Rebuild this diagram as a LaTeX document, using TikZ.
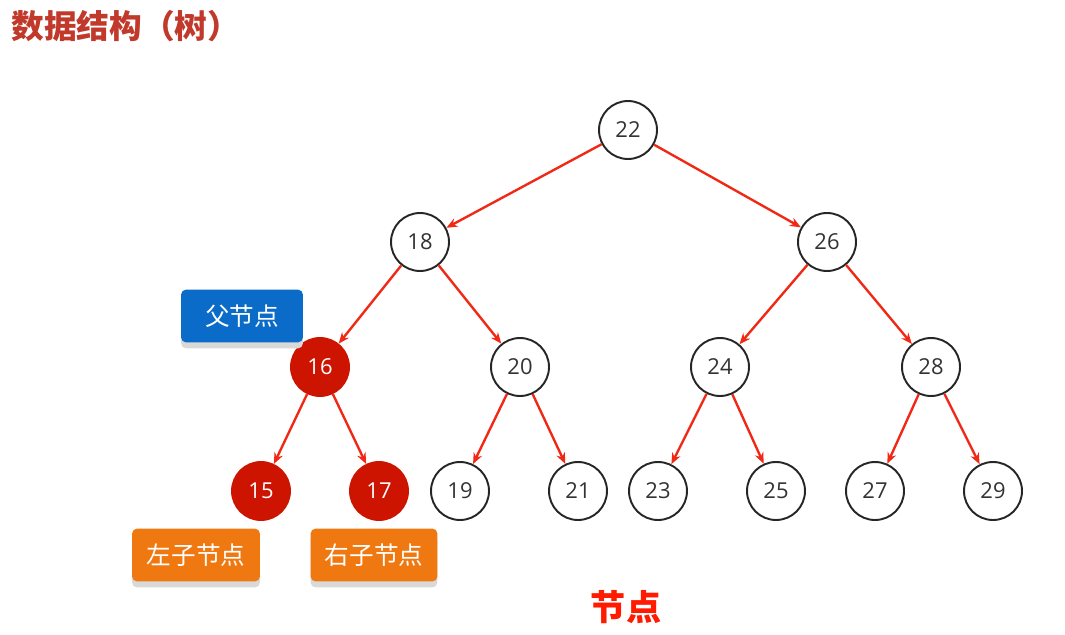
\documentclass[tikz,border=0pt]{standalone}
\usepackage{fontspec}
\setmainfont{Open Sans}
\newfontfamily\cjk{Noto Sans CJK SC}
\usetikzlibrary{positioning, arrows.meta, shadows}
\definecolor{titlered}{RGB}{192,57,43}
\definecolor{linkred}{RGB}{240,40,20}
\definecolor{nodered}{RGB}{204,20,0}
\definecolor{fatherblue}{RGB}{10,108,200}
\definecolor{childorange}{RGB}{240,120,16}
\definecolor{keyred}{RGB}{255,26,0}

\begin{document}
\begin{tikzpicture}[x=0.02cm, y=-0.02cm,
    tnode/.style={circle, draw=black!85, line width=1.1pt, minimum size=1.16cm, inner sep=0pt,
      font=\fontsize{12.5}{14}\selectfont, text=black!80},
    hnode/.style={tnode, draw=nodered, fill=nodered, text=white},
    link/.style={-{Stealth[length=0.22cm, width=0.18cm]}, linkred, line width=1.35pt},
    tag/.style={rounded corners=3pt, minimum height=1.06cm, inner sep=0pt, text=white,
      font=\cjk\fontsize{14}{16}\selectfont,
      drop shadow={shadow xshift=0pt, shadow yshift=-0.12cm, fill=black!15, opacity=1}}]
    \useasboundingbox (0,0) rectangle (1065,635);
    % Titel
    \node[anchor=west, inner sep=0pt, text=titlered, font=\cjk\bfseries\fontsize{18.6}{22}\selectfont]
      (title) at (11,26) {数据结构（树）};
    % Knoten (weiss)
    \foreach \n/\x/\y in {22/628/130, 18/420/242, 26/827/242, 20/520/367, 24/720/367, 28/931/367,
                          19/460/491, 21/578/491, 23/658/491, 25/776/491, 27/875/491, 29/993/491}
      \node[tnode] (n\n) at (\x,\y) {\n};
    % Knoten (markiert)
    \foreach \n/\x/\y in {16/320/367, 15/261/491, 17/379/491}
      \node[hnode] (n\n) at (\x,\y) {\n};
    % Kanten
    \foreach \a/\b in {22/18, 22/26, 18/16, 18/20, 26/24, 26/28,
                       16/15, 16/17, 20/19, 20/21, 24/23, 24/25, 28/27, 28/29}
      \draw[link] (n\a) -- (n\b);
    % Beschriftungen
    \node[tag, fill=fatherblue, minimum width=2.44cm] (father) at (242,316) {父节点};
    \node[tag, fill=childorange, minimum width=2.56cm] (leftchild) at (196,555) {左子节点};
    \node[tag, fill=childorange, minimum width=2.54cm] (rightchild) at (374,555) {右子节点};
    \node[text=keyred, font=\cjk\bfseries\fontsize{20}{24}\selectfont] (caption) at (626,607) {节点};
\end{tikzpicture}
\end{document}
